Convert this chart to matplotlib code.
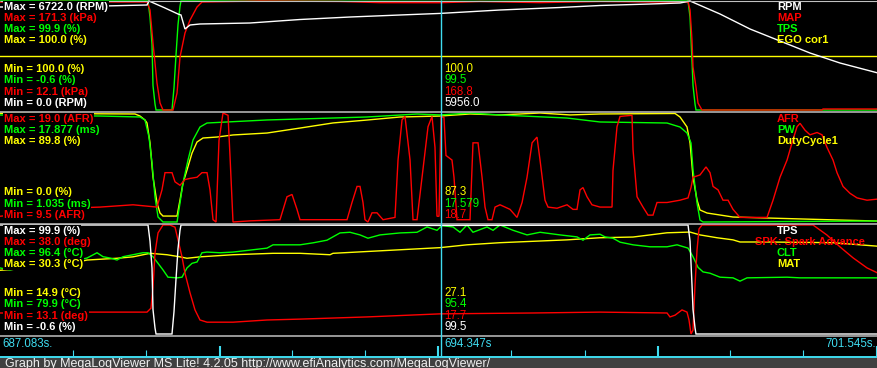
import numpy as np
import matplotlib
matplotlib.use("Agg")
import matplotlib.pyplot as plt
from matplotlib.patches import Rectangle

plt.rcParams['font.family'] = ['Liberation Sans', 'DejaVu Sans']

# ------------------------------------------------------------------ data
T_START = 687.083
T_END = 701.545
T_CURSOR = 694.347

# elapsed seconds since T_START for each trace, and the trace values
rpm_t = [0.000, 1.697, 2.421, 2.454, 2.718, 2.932, 2.981, 3.047, 3.130, 3.294, 4.118, 4.942,
         5.765, 6.589, 7.248, 8.236, 9.224, 9.883, 10.707, 11.201, 11.366, 11.860, 12.354,
         12.848, 13.342, 13.836, 14.462]
rpm_v = [6352, 6414, 6475, 6722, 6290, 5920, 5859, 4995, 5242, 5304, 5365, 5581,
         5735, 5859, 5956, 6167, 6321, 6445, 6537, 6599, 6722, 5920, 4995,
         4255, 3515, 2898, 2282]

map_t = [0.000, 0.988, 1.977, 2.421, 2.471, 2.520, 2.586, 2.636, 2.685, 2.850, 2.916, 2.965,
         3.047, 3.130, 3.245, 3.327, 4.283, 5.600, 6.259, 7.248, 7.907, 8.895, 9.883, 10.707,
         11.333, 11.366, 11.398, 11.415, 11.464, 11.497, 11.563, 13.540, 13.556, 14.462]
map_v = [169.8, 170.6, 169.8, 169.8, 158.2, 110.0, 51.5, 22.3, 12.1, 12.1, 36.9, 89.5,
         124.6, 143.5, 162.5, 169.8, 171.3, 170.6, 168.9, 168.8, 170.6, 168.9, 170.6, 169.8,
         169.8, 158.2, 114.3, 74.9, 45.7, 22.3, 12.1, 12.1, 13.6, 13.6]

tps_t = [0.000, 2.438, 2.471, 2.504, 2.520, 2.553, 2.570, 2.833, 2.866, 2.899, 2.932, 2.965,
         2.981, 7.248, 11.333, 11.366, 11.382, 11.398, 11.415, 11.448, 11.464, 14.462]
tps_v = [99.9, 99.9, 85.0, 60.0, 22.0, 5.0, -0.6, -0.6, 20.0, 50.0, 78.0, 95.0,
         99.9, 99.5, 99.9, 85.0, 65.0, 45.0, 22.0, 5.0, -0.6, -0.6]

ego_t = [0.000, 14.462]
ego_v = [100.0, 100.0]

afr_t = [0.000, 0.544, 1.104, 1.647, 2.191, 2.586, 2.668, 2.718, 2.833, 2.883, 2.965, 3.047,
         3.130, 3.245, 3.327, 3.410, 3.459, 3.509, 3.558, 3.607, 3.673, 3.756, 3.789, 3.838,
         4.118, 4.612, 4.727, 4.810, 4.892, 4.942, 5.716, 5.798, 5.881, 5.930, 5.979, 6.012,
         6.061, 6.128, 6.210, 6.309, 6.506, 6.556, 6.622, 6.671, 6.754, 6.803, 6.869, 6.951,
         7.050, 7.116, 7.165, 7.198, 7.231, 7.264, 7.313, 7.346, 7.445, 7.478, 7.528, 7.742,
         7.791, 7.874, 7.940, 7.989, 8.038, 8.104, 8.154, 8.236, 8.401, 8.516, 8.599, 8.681,
         8.764, 8.845, 8.895, 8.977, 9.027, 9.175, 9.340, 9.438, 9.504, 9.554, 9.603, 9.669,
         9.751, 9.883, 10.081, 10.097, 10.163, 10.213, 10.410, 10.427, 10.493, 10.591, 10.674,
         10.756, 10.822, 10.987, 11.201, 11.333, 11.382, 11.415, 11.530, 11.629, 11.695,
         11.745, 11.827, 11.909, 11.992, 12.074, 12.189, 12.634, 12.733, 12.848, 12.964,
         13.046, 13.128, 13.178, 13.260, 13.342, 13.458, 13.540, 13.622, 13.721, 13.787,
         13.886, 14.001, 14.117, 14.281, 14.462]
afr_v = [10.0, 10.3, 10.7, 10.8, 11.0, 10.8, 12.3, 13.8, 13.8, 13.0, 12.7, 13.2,
         13.3, 13.4, 13.8, 13.8, 12.3, 9.7, 9.5, 16.6, 19.0, 18.8, 15.2, 9.5,
         9.6, 9.7, 11.7, 11.9, 10.6, 9.7, 9.7, 11.2, 12.6, 12.6, 11.2, 9.7,
         9.5, 10.3, 10.3, 9.7, 9.9, 14.9, 18.4, 18.7, 14.9, 9.7, 9.7, 13.4,
         17.8, 18.7, 16.0, 10.0, 10.0, 18.7, 18.6, 15.3, 14.9, 13.4, 9.7, 9.7,
         16.4, 16.4, 13.4, 10.8, 9.7, 9.7, 10.8, 11.0, 10.6, 9.9, 11.2, 13.4,
         16.4, 16.9, 14.9, 11.4, 10.8, 10.7, 11.0, 10.6, 10.6, 12.3, 12.5, 11.7,
         11.0, 10.8, 10.8, 14.0, 17.8, 18.7, 18.8, 15.8, 11.7, 10.8, 10.1,
         10.1, 11.2, 11.2, 11.4, 11.6, 12.5, 13.4, 13.6, 14.3, 13.8,
         12.6, 12.3, 11.4, 11.4, 10.6, 9.9, 9.9, 11.4, 13.4, 14.9,
         16.4, 17.8, 18.1, 17.5, 17.1, 17.3, 17.1, 16.0, 14.9, 13.8,
         12.6, 12.0, 11.6, 11.4, 11.5]

pw_t = [0.000, 1.647, 2.306, 2.388, 2.454, 2.504, 2.553, 2.603, 2.685, 2.916, 2.965, 3.014,
        3.097, 3.179, 3.294, 3.410, 3.739, 4.398, 4.942, 6.045, 6.869, 7.248, 7.742, 8.236,
        9.340, 9.883, 10.987, 11.201, 11.316, 11.382, 11.415, 11.481, 11.530, 11.580, 14.462]
pw_v = [17.57, 17.41, 17.26, 16.80, 14.17, 10.15, 4.90, 1.81, 1.035, 1.035, 3.97, 7.06,
        10.61, 13.70, 15.71, 16.33, 16.49, 16.80, 16.95, 17.26, 17.72, 17.579, 17.877, 17.57,
        17.10, 16.49, 16.33, 15.71, 14.79, 13.24, 9.07, 3.97, 1.34, 1.035, 1.19]

dc_t = [0.000, 2.224, 2.306, 2.388, 2.421, 2.471, 2.520, 2.586, 2.636, 2.685, 2.916, 2.965,
        3.014, 3.080, 3.163, 3.245, 3.344, 3.574, 3.838, 4.398, 4.942, 5.485, 6.045, 6.589,
        7.248, 7.742, 8.236, 8.895, 9.389, 9.883, 11.119, 11.201, 11.316, 11.366, 11.415,
        11.481, 11.530, 11.646, 12.074, 12.634, 13.836, 14.462]
dc_v = [89.5, 89.0, 87.3, 84.0, 81.6, 65.1, 37.1, 15.7, 7.4, 4.9, 4.9, 18.1,
        32.1, 42.8, 56.8, 65.9, 69.2, 70.0, 71.7, 73.3, 77.4, 81.6, 84.0, 86.5,
        87.3, 89.0, 88.2, 89.8, 88.2, 89.0, 89.4, 86.5, 78.3, 65.1, 37.1,
        18.1, 9.9, 7.4, 4.1, 3.3, 1.6, 0.8]

spk_t = [0.000, 1.104, 1.433, 2.421, 2.487, 2.520, 2.553, 2.603, 2.685, 2.800, 2.883, 2.932,
         2.998, 3.047, 3.130, 3.212, 3.294, 3.410, 3.838, 4.398, 4.942, 6.045, 7.248, 8.780,
         9.883, 10.987, 11.036, 11.119, 11.234, 11.316, 11.349, 11.382, 11.415, 11.448, 11.481,
         11.514, 11.563, 13.392, 13.622, 13.836, 14.051, 14.281, 14.462]
spk_v = [17.9, 17.9, 18.1, 18.1, 19.0, 23.8, 31.6, 36.2, 38.0, 38.0, 37.5, 34.6,
         30.7, 27.0, 22.5, 18.6, 16.3, 15.8, 15.8, 16.3, 16.5, 17.0, 17.7, 17.9,
         18.1, 17.9, 17.0, 17.4, 18.6, 18.1, 16.3, 13.1, 14.0, 24.3, 32.3,
         37.1, 38.0, 38.0, 35.7, 33.0, 30.5, 28.2, 27.0]

clt_t = [0.000, 0.165, 0.329, 0.659, 1.153, 1.433, 1.598, 1.697, 1.812, 1.927, 2.026, 2.191,
         2.355, 2.438, 2.520, 2.603, 2.685, 2.767, 2.916, 2.998, 3.080, 3.163, 3.245, 3.327,
         3.410, 3.624, 3.838, 4.398, 4.497, 4.942, 5.156, 5.386, 5.600, 5.765, 5.930, 6.061,
         6.259, 6.589, 6.869, 7.034, 7.198, 7.280, 7.462, 7.577, 7.692, 7.791, 8.022, 8.121,
         8.236, 8.450, 8.681, 8.895, 9.224, 9.504, 9.603, 9.718, 9.883, 9.966, 10.097, 10.213,
         10.427, 10.707, 10.987, 11.152, 11.333, 11.415, 11.497, 11.580, 11.695, 11.860,
         12.074, 12.189, 12.305, 12.964, 13.178, 14.462]
clt_v = [89.9, 89.6, 89.9, 89.9, 90.8, 91.4, 92.2, 91.6, 91.4, 91.1, 91.6, 91.9,
         92.2, 92.2, 91.6, 90.6, 89.6, 88.5, 88.4, 88.5, 89.9, 90.6, 90.8, 92.2,
         92.3, 92.2, 92.3, 92.9, 93.4, 93.4, 93.7, 94.1, 95.2, 95.3, 94.9, 94.4,
         94.9, 95.2, 95.3, 96.1, 95.6, 96.3, 96.1, 95.3, 96.4, 95.3, 96.1, 95.6,
         96.4, 95.6, 94.9, 95.3, 94.9, 94.6, 94.1, 94.9, 95.0, 94.6, 94.4, 93.8,
         93.4, 93.1, 93.1, 93.4, 92.9, 91.6, 90.0, 89.3, 89.1, 88.5,
         88.4, 87.9, 88.4, 88.5, 88.4, 88.4]

mat_t = [0.000, 0.329, 0.824, 1.433, 1.927, 2.191, 2.471, 2.751, 2.965, 3.080, 3.294, 3.838,
         4.497, 4.942, 5.436, 5.485, 6.589, 7.248, 7.692, 8.236, 9.340, 9.883, 10.427, 10.987,
         11.366, 11.530, 11.810, 12.074, 12.189, 12.634, 13.721, 14.166, 14.462]
mat_v = [23.9, 24.1, 24.2, 25.35, 25.6, 25.8, 26.3, 26.1, 25.8, 25.6, 25.8, 26.1,
         26.3, 26.3, 26.1, 26.3, 26.8, 27.1, 27.5, 27.8, 28.2, 28.5, 28.6, 29.2,
         29.3, 28.9, 28.5, 28.2, 27.9, 27.9, 27.8, 27.5, 27.3]

# per-panel trace settings: name, unit, min, max, cursor value, decimals
p1_names = ["RPM", "MAP", "TPS", "EGO cor1"]
p1_units = ["RPM", "kPa", "%", "%"]
p1_min = [0.0, 12.1, -0.6, 100.0]
p1_max = [6722.0, 171.3, 99.9, 100.0]
p1_cur = [5956.0, 168.8, 99.5, 100.0]
p1_dec = [1, 1, 1, 1]

p2_names = ["AFR", "PW", "DutyCycle1"]
p2_units = ["AFR", "ms", "%"]
p2_min = [9.5, 1.035, 0.0]
p2_max = [19.0, 17.877, 89.8]
p2_cur = [18.7, 17.579, 87.3]
p2_dec = [1, 3, 1]

p3_names = ["TPS", "SPK: Spark Advance", "CLT", "MAT"]
p3_units = ["%", "deg", "\u00b0C", "\u00b0C"]
p3_min = [-0.6, 13.1, 79.9, 14.9]
p3_max = [99.9, 38.0, 96.4, 30.3]
p3_cur = [99.5, 17.7, 95.4, 27.1]
p3_dec = [1, 1, 1, 1]

tick_minor = [1.202, 2.405, 4.810, 6.012, 8.417, 9.636, 12.025, 13.227]
tick_major = [3.624, 7.215, 10.839, 14.446]

footer = "Graph by MegaLogViewer MS Lite! 4.2.05 http://www.efiAnalytics.com/MegaLogViewer/"

# ------------------------------------------------------------------ style
W, H = 878, 368
WHITE, RED, GREEN, YELLOW = "#ffffff", "#ff0000", "#00ff00", "#ffff00"
CYAN = "#3fdcf0"
SEP = "#c0c0c0"
LW = 1.0

fig = plt.figure(figsize=(W / 100, H / 100), dpi=100, facecolor="black")

panels = [
    dict(top=0, bottom=111, dtop=1, dbot=110,
         names=p1_names, units=p1_units, mins=p1_min, maxs=p1_max, cur=p1_cur, dec=p1_dec,
         colors=[WHITE, RED, GREEN, YELLOW],
         data=[(rpm_t, rpm_v), (map_t, map_v), (tps_t, tps_v), (ego_t, ego_v)]),
    dict(top=112, bottom=223, dtop=113, dbot=222,
         names=p2_names, units=p2_units, mins=p2_min, maxs=p2_max, cur=p2_cur, dec=p2_dec,
         colors=[RED, GREEN, YELLOW],
         data=[(afr_t, afr_v), (pw_t, pw_v), (dc_t, dc_v)]),
    dict(top=224, bottom=335, dtop=225, dbot=334,
         names=p3_names, units=p3_units, mins=p3_min, maxs=p3_max, cur=p3_cur, dec=p3_dec,
         colors=[WHITE, RED, GREEN, YELLOW],
         data=[(tps_t, tps_v), (spk_t, spk_v), (clt_t, clt_v), (mat_t, mat_v)]),
]

# trace axes (one per trace, each with its own vertical scale)
for p in panels:
    rect = [0, 1 - p["dbot"] / H, 1, (p["dbot"] - p["dtop"]) / H]
    n = len(p["names"])
    for i in reversed(range(n)):
        ax = fig.add_axes(rect, label=f"{p['names'][i]}_{p['top']}")
        lo, hi = p["mins"][i], p["maxs"][i]
        if hi == lo:
            lo, hi = lo - 1, hi + 1
        ax.set_xlim(T_START, T_END)
        ax.set_ylim(lo, hi)
        ax.axis("off")
        ax.patch.set_visible(False)
        t, v = p["data"][i]
        ax.plot(T_START + np.asarray(t), v, color=p["colors"][i], lw=LW, clip_on=False,
                solid_joinstyle="miter")

# pixel overlay
ov = fig.add_axes([0, 0, 1, 1], label="overlay")
ov.set_xlim(0, W)
ov.set_ylim(H, 0)
ov.axis("off")
ov.patch.set_visible(False)

ov.hlines([0.5], 0, W, color=SEP, lw=0.8)
ov.hlines([111.5, 223.5, 335.5], 0, W, color=SEP, lw=1.1)

# footer
ov.add_patch(Rectangle((0, 358), W, 10, facecolor="#404040", edgecolor="none", clip_on=False))
ov.hlines([356.8], 0, W, color=CYAN, lw=1.4)
ov.text(5, 366.5, footer, color="#f0f0f0", fontsize=9, va="baseline", ha="left")

# labels
FS = 8
STEP = 11.3
name_texts = []
for p in panels:
    n = len(p["names"])
    for i in range(n):
        y = p["top"] + 6.5 + STEP * i
        d = p["dec"][i]
        ov.text(4, y, f"Max = {p['maxs'][i]:.{d}f} ({p['units'][i]})", color=p["colors"][i],
                fontsize=FS, fontweight="bold", va="center", ha="left",
                bbox=dict(facecolor="black", edgecolor="none", pad=0.6))
        nt = ov.text(777, y, p["names"][i], color=p["colors"][i], fontsize=FS,
                     fontweight="bold", va="center", ha="left")
        name_texts.append(nt)
        y = p["bottom"] - 8 - STEP * i
        ov.text(4, y, f"Min = {p['mins'][i]:.{d}f} ({p['units'][i]})", color=p["colors"][i],
                fontsize=FS, fontweight="bold", va="center", ha="left",
                bbox=dict(facecolor="black", edgecolor="none", pad=0.6))

# time overlay (x in seconds, y in pixels)
tv = fig.add_axes([0, 0, 1, 1], label="time")
tv.set_xlim(T_START, T_END)
tv.set_ylim(H, 0)
tv.axis("off")
tv.patch.set_visible(False)

tv.vlines(T_START + np.asarray(tick_minor), 350, 356, color=CYAN, lw=0.8)
tv.vlines(T_START + np.asarray(tick_major), 346, 356, color=CYAN, lw=1.5)
tv.vlines([T_CURSOR], 0, 356, color=CYAN, lw=1.0)

for p in panels:
    n = len(p["names"])
    for i in range(n):
        y = p["bottom"] - 8 - STEP * i
        d = p["dec"][i]
        tv.annotate(f"{p['cur'][i]:.{d}f}", (T_CURSOR, y), xytext=(3, 0),
                    textcoords="offset pixels", color=p["colors"][i], fontsize=8.3,
                    va="center", ha="left")

tv.annotate(f"{T_START:.3f}s.", (T_START, 344), xytext=(2, 0), textcoords="offset pixels",
            color=CYAN, fontsize=8.3, va="center", ha="left")
tv.annotate(f"{T_CURSOR:.3f}s", (T_CURSOR, 344), xytext=(3, 0), textcoords="offset pixels",
            color=CYAN, fontsize=8.3, va="center", ha="left")
tv.annotate(f"{T_END:.3f}s.", (T_END, 344), xytext=(-2, 0), textcoords="offset pixels",
            color=CYAN, fontsize=8.3, va="center", ha="right")

# keep trace names inside the panel
fig.canvas.draw()
r = fig.canvas.get_renderer()
for t in name_texts:
    bb = t.get_window_extent(r)
    if bb.x1 > W - 13:
        x, y = t.get_position()
        t.set_position((x - (bb.x1 - (W - 13)), y))

fig.savefig("out.png", dpi=100, facecolor="black")
